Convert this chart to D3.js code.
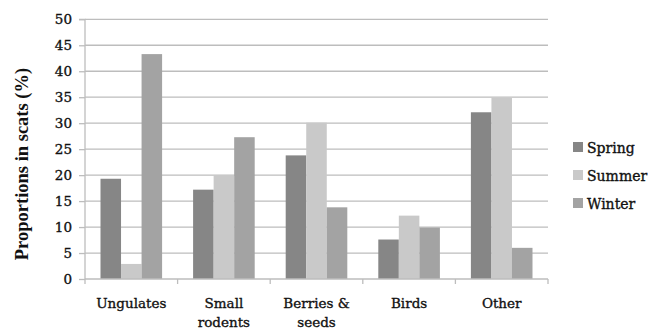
<!DOCTYPE html>
<html><head><meta charset="utf-8">
<script src="https://cdn.jsdelivr.net/npm/d3@7"></script>
<style>body{margin:0;background:#fff}svg{display:block}</style>
</head><body>
<svg id="c" width="660" height="329"></svg>
<script>
const categories = [["Ungulates"], ["Small", "rodents"], ["Berries &", "seeds"], ["Birds"], ["Other"]];
const seriesNames = ["Spring", "Summer", "Winter"];
const spring = [19.3, 17.2, 23.8, 7.6, 32.1];
const summer = [2.9, 20.0, 30.1, 12.2, 34.9];
const winter = [43.3, 27.3, 13.8, 9.9, 6.0];
const colors = ["#868686", "#c9c9c9", "#a3a3a3"];
const yTicks = [0, 5, 10, 15, 20, 25, 30, 35, 40, 45, 50];

const series = [spring, summer, winter];
const svg = d3.select("#c");
const pL = 85, pR = 548, pT = 19.3, pB = 279;
const y = d3.scaleLinear().domain([0, 50]).range([pB, pT]);
const x = d3.scaleBand().domain(d3.range(categories.length)).range([pL, pR]).paddingInner(0).paddingOuter(0);
const xs = d3.scaleBand().domain(d3.range(3)).range([15.5, x.bandwidth() - 15.5]).padding(0);
const txt = sel => sel.attr("fill", "#111").attr("stroke", "#111").attr("stroke-width", 0.35);

// gridlines
svg.append("g").selectAll("line").data(yTicks.filter(d => d > 0)).join("line")
  .attr("x1", pL).attr("x2", pR).attr("y1", d => y(d)).attr("y2", d => y(d))
  .attr("stroke", "#bdbdbd").attr("stroke-width", 1.3);

// bars
const g = svg.append("g");
series.forEach((s, si) => {
  g.selectAll(null).data(s).join("rect")
    .attr("x", (d, i) => x(i) + xs(si)).attr("width", xs.bandwidth())
    .attr("y", d => y(d)).attr("height", d => pB - y(d))
    .attr("fill", colors[si]);
});

// y axis
const ya = svg.append("g").attr("transform", `translate(${pL},0)`)
  .call(d3.axisLeft(y).tickValues(yTicks).tickSize(6).tickPadding(7));
ya.select(".domain").attr("stroke", "#bdbdbd").attr("stroke-width", 1.3).attr("d", `M-6,${pT}H0V${pB}`);
ya.selectAll(".tick line").attr("stroke", "#bdbdbd").attr("stroke-width", 1.3);
ya.selectAll("text").attr("font-family", "'DejaVu Serif', serif").attr("font-size", 13.5).call(txt);

// x axis
const xa = svg.append("g").attr("transform", `translate(0,${pB})`);
xa.append("line").attr("x1", pL).attr("x2", pR).attr("stroke", "#bdbdbd").attr("stroke-width", 1.3);
xa.selectAll("line.t").data(d3.range(categories.length + 1)).join("line").attr("class", "t")
  .attr("x1", i => pL + i * x.step()).attr("x2", i => pL + i * x.step())
  .attr("y1", 0).attr("y2", 5).attr("stroke", "#bdbdbd").attr("stroke-width", 1.3);
xa.selectAll("text").data(categories).join("text")
  .attr("x", (d, i) => x(i) + x.bandwidth() / 2).attr("y", 29)
  .attr("text-anchor", "middle").attr("font-family", "'DejaVu Serif', serif").attr("font-size", 13.5).call(txt)
  .selectAll("tspan").data(d => d).join("tspan")
  .attr("x", function() { return this.parentNode.getAttribute("x"); })
  .attr("dy", (d, i) => i === 0 ? 0 : 19).text(d => d);

// y title
svg.append("text").attr("transform", "translate(28,164) rotate(-90)")
  .attr("text-anchor", "middle").attr("font-family", "'Liberation Serif', 'Times New Roman', serif")
  .attr("font-weight", "bold").attr("font-size", 18.5).attr("fill", "#111").text("Proportions in scats (%)");

// legend
const lg = svg.append("g").selectAll("g").data(seriesNames).join("g")
  .attr("transform", (d, i) => `translate(573,${147 + i * 28})`);
lg.append("rect").attr("x", 0).attr("y", -5).attr("width", 10).attr("height", 10).attr("fill", (d, i) => colors[i]);
lg.append("text").attr("x", 14).attr("y", 5.5).attr("font-family", "'DejaVu Serif', serif").attr("font-size", 14).call(txt).text(d => d);
</script>
</body></html>
